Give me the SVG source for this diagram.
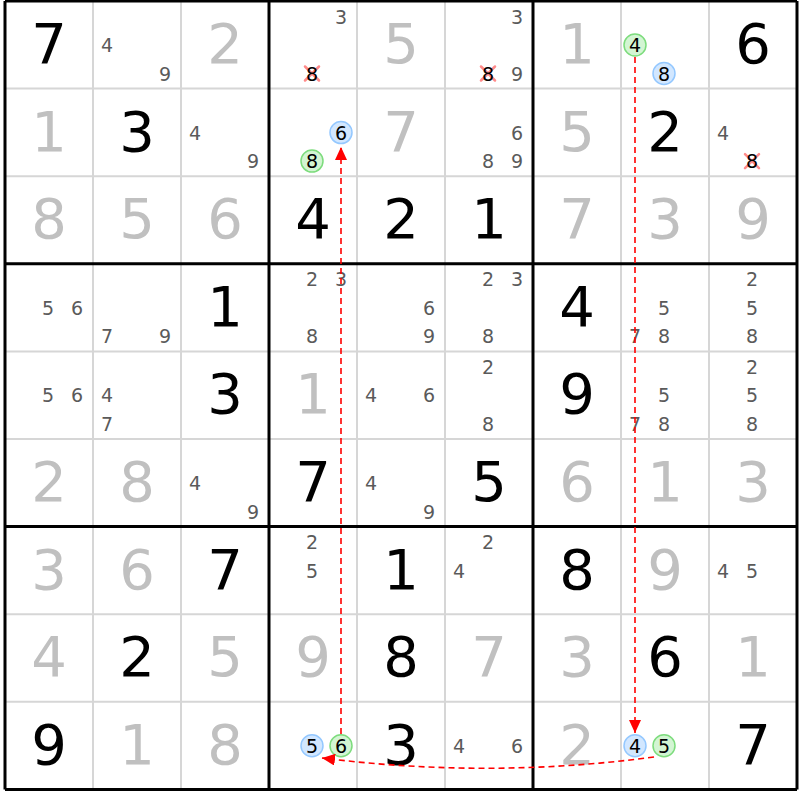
<svg xmlns="http://www.w3.org/2000/svg" width="800" height="800" viewBox="0 0 800 800">
<style>
text{font-family:"DejaVu Sans","Verdana",sans-serif;text-anchor:middle}
.g{font-size:56px;fill:#000}
.s{font-size:56px;fill:#c0c0c0}
.c{font-size:19px;fill:#5a5a5a}
.k{font-size:19px;fill:#000}
.thin{stroke:#d6d6d6;stroke-width:2}
.thick{stroke:#000;stroke-width:3}
.x{stroke:#ff8a8a;stroke-width:2.5;stroke-linecap:round}
.blue{fill:#d2e7ff;stroke:#94c8ff;stroke-width:1.5}
.green{fill:#d3f5d3;stroke:#7ddc7d;stroke-width:1.5}
.arrow{fill:none;stroke:#ff0000;stroke-width:1.6;stroke-dasharray:6,4}
</style>
<defs>
<marker id="ah" markerUnits="userSpaceOnUse" markerWidth="14" markerHeight="12" refX="13" refY="6" orient="auto">
<path d="M0,0 L13,6 L0,12 Z" fill="#ff0000"/>
</marker>
</defs>
<rect width="800" height="800" fill="#fff"/>
<g id="grid">
<path class="thin" d="M93,1V789.4M181,1V789.4M357,1V789.4M445,1V789.4M621,1V789.4M709,1V789.4M5,88.6H797M5,176.2H797M5,351.4H797M5,439H797M5,614.2H797M5,701.8H797"/>
<path class="thick" d="M5,1V789.4M269,1V789.4M533,1V789.4M797,1V789.4M5,1H797M5,263.8H797M5,526.6H797M5,789.4H797"/>
</g>
<g id="r1">
<g id="r1c1"><text class="g" x="49" y="63">7</text></g>
<g id="r1c2"><text class="c" x="107" y="52">4</text><text class="c" x="165" y="80.5">9</text></g>
<g id="r1c3"><text class="s" x="225" y="63">2</text></g>
<g id="r1c4"><text class="c" x="341" y="23.5">3</text><path class="x" d="M305,66.5L319,80.5M319,66.5L305,80.5"/><text class="k" x="312" y="80.5">8</text></g>
<g id="r1c5"><text class="s" x="401" y="63">5</text></g>
<g id="r1c6"><text class="c" x="517" y="23.5">3</text><path class="x" d="M481,66.5L495,80.5M495,66.5L481,80.5"/><text class="k" x="488" y="80.5">8</text><text class="c" x="517" y="80.5">9</text></g>
<g id="r1c7"><text class="s" x="577" y="63">1</text></g>
<g id="r1c8"><circle class="green" cx="635" cy="45" r="11"/><text class="k" x="635" y="52">4</text><circle class="blue" cx="664" cy="73.5" r="11"/><text class="k" x="664" y="80.5">8</text></g>
<g id="r1c9"><text class="g" x="753" y="63">6</text></g>
</g>
<g id="r2">
<g id="r2c1"><text class="s" x="49" y="150.6">1</text></g>
<g id="r2c2"><text class="g" x="137" y="150.6">3</text></g>
<g id="r2c3"><text class="c" x="195" y="139.6">4</text><text class="c" x="253" y="168.1">9</text></g>
<g id="r2c4"><circle class="blue" cx="341" cy="132.6" r="11"/><text class="k" x="341" y="139.6">6</text><circle class="green" cx="312" cy="161.1" r="11"/><text class="k" x="312" y="168.1">8</text></g>
<g id="r2c5"><text class="s" x="401" y="150.6">7</text></g>
<g id="r2c6"><text class="c" x="517" y="139.6">6</text><text class="c" x="488" y="168.1">8</text><text class="c" x="517" y="168.1">9</text></g>
<g id="r2c7"><text class="s" x="577" y="150.6">5</text></g>
<g id="r2c8"><text class="g" x="665" y="150.6">2</text></g>
<g id="r2c9"><text class="c" x="723" y="139.6">4</text><path class="x" d="M745,154.1L759,168.1M759,154.1L745,168.1"/><text class="k" x="752" y="168.1">8</text></g>
</g>
<g id="r3">
<g id="r3c1"><text class="s" x="49" y="238.2">8</text></g>
<g id="r3c2"><text class="s" x="137" y="238.2">5</text></g>
<g id="r3c3"><text class="s" x="225" y="238.2">6</text></g>
<g id="r3c4"><text class="g" x="313" y="238.2">4</text></g>
<g id="r3c5"><text class="g" x="401" y="238.2">2</text></g>
<g id="r3c6"><text class="g" x="489" y="238.2">1</text></g>
<g id="r3c7"><text class="s" x="577" y="238.2">7</text></g>
<g id="r3c8"><text class="s" x="665" y="238.2">3</text></g>
<g id="r3c9"><text class="s" x="753" y="238.2">9</text></g>
</g>
<g id="r4">
<g id="r4c1"><text class="c" x="48" y="314.8">5</text><text class="c" x="77" y="314.8">6</text></g>
<g id="r4c2"><text class="c" x="107" y="343.3">7</text><text class="c" x="165" y="343.3">9</text></g>
<g id="r4c3"><text class="g" x="225" y="325.8">1</text></g>
<g id="r4c4"><text class="c" x="312" y="286.3">2</text><text class="c" x="341" y="286.3">3</text><text class="c" x="312" y="343.3">8</text></g>
<g id="r4c5"><text class="c" x="429" y="314.8">6</text><text class="c" x="429" y="343.3">9</text></g>
<g id="r4c6"><text class="c" x="488" y="286.3">2</text><text class="c" x="517" y="286.3">3</text><text class="c" x="488" y="343.3">8</text></g>
<g id="r4c7"><text class="g" x="577" y="325.8">4</text></g>
<g id="r4c8"><text class="c" x="664" y="314.8">5</text><text class="c" x="635" y="343.3">7</text><text class="c" x="664" y="343.3">8</text></g>
<g id="r4c9"><text class="c" x="752" y="286.3">2</text><text class="c" x="752" y="314.8">5</text><text class="c" x="752" y="343.3">8</text></g>
</g>
<g id="r5">
<g id="r5c1"><text class="c" x="48" y="402.4">5</text><text class="c" x="77" y="402.4">6</text></g>
<g id="r5c2"><text class="c" x="107" y="402.4">4</text><text class="c" x="107" y="430.9">7</text></g>
<g id="r5c3"><text class="g" x="225" y="413.4">3</text></g>
<g id="r5c4"><text class="s" x="313" y="413.4">1</text></g>
<g id="r5c5"><text class="c" x="371" y="402.4">4</text><text class="c" x="429" y="402.4">6</text></g>
<g id="r5c6"><text class="c" x="488" y="373.9">2</text><text class="c" x="488" y="430.9">8</text></g>
<g id="r5c7"><text class="g" x="577" y="413.4">9</text></g>
<g id="r5c8"><text class="c" x="664" y="402.4">5</text><text class="c" x="635" y="430.9">7</text><text class="c" x="664" y="430.9">8</text></g>
<g id="r5c9"><text class="c" x="752" y="373.9">2</text><text class="c" x="752" y="402.4">5</text><text class="c" x="752" y="430.9">8</text></g>
</g>
<g id="r6">
<g id="r6c1"><text class="s" x="49" y="501">2</text></g>
<g id="r6c2"><text class="s" x="137" y="501">8</text></g>
<g id="r6c3"><text class="c" x="195" y="490">4</text><text class="c" x="253" y="518.5">9</text></g>
<g id="r6c4"><text class="g" x="313" y="501">7</text></g>
<g id="r6c5"><text class="c" x="371" y="490">4</text><text class="c" x="429" y="518.5">9</text></g>
<g id="r6c6"><text class="g" x="489" y="501">5</text></g>
<g id="r6c7"><text class="s" x="577" y="501">6</text></g>
<g id="r6c8"><text class="s" x="665" y="501">1</text></g>
<g id="r6c9"><text class="s" x="753" y="501">3</text></g>
</g>
<g id="r7">
<g id="r7c1"><text class="s" x="49" y="588.6">3</text></g>
<g id="r7c2"><text class="s" x="137" y="588.6">6</text></g>
<g id="r7c3"><text class="g" x="225" y="588.6">7</text></g>
<g id="r7c4"><text class="c" x="312" y="549.1">2</text><text class="c" x="312" y="577.6">5</text></g>
<g id="r7c5"><text class="g" x="401" y="588.6">1</text></g>
<g id="r7c6"><text class="c" x="488" y="549.1">2</text><text class="c" x="459" y="577.6">4</text></g>
<g id="r7c7"><text class="g" x="577" y="588.6">8</text></g>
<g id="r7c8"><text class="s" x="665" y="588.6">9</text></g>
<g id="r7c9"><text class="c" x="723" y="577.6">4</text><text class="c" x="752" y="577.6">5</text></g>
</g>
<g id="r8">
<g id="r8c1"><text class="s" x="49" y="676.2">4</text></g>
<g id="r8c2"><text class="g" x="137" y="676.2">2</text></g>
<g id="r8c3"><text class="s" x="225" y="676.2">5</text></g>
<g id="r8c4"><text class="s" x="313" y="676.2">9</text></g>
<g id="r8c5"><text class="g" x="401" y="676.2">8</text></g>
<g id="r8c6"><text class="s" x="489" y="676.2">7</text></g>
<g id="r8c7"><text class="s" x="577" y="676.2">3</text></g>
<g id="r8c8"><text class="g" x="665" y="676.2">6</text></g>
<g id="r8c9"><text class="s" x="753" y="676.2">1</text></g>
</g>
<g id="r9">
<g id="r9c1"><text class="g" x="49" y="763.8">9</text></g>
<g id="r9c2"><text class="s" x="137" y="763.8">1</text></g>
<g id="r9c3"><text class="s" x="225" y="763.8">8</text></g>
<g id="r9c4"><circle class="blue" cx="312" cy="745.8" r="11"/><text class="k" x="312" y="752.8">5</text><circle class="green" cx="341" cy="745.8" r="11"/><text class="k" x="341" y="752.8">6</text></g>
<g id="r9c5"><text class="g" x="401" y="763.8">3</text></g>
<g id="r9c6"><text class="c" x="459" y="752.8">4</text><text class="c" x="517" y="752.8">6</text></g>
<g id="r9c7"><text class="s" x="577" y="763.8">2</text></g>
<g id="r9c8"><circle class="blue" cx="635" cy="745.8" r="11"/><text class="k" x="635" y="752.8">4</text><circle class="green" cx="664" cy="745.8" r="11"/><text class="k" x="664" y="752.8">5</text></g>
<g id="r9c9"><text class="g" x="753" y="763.8">7</text></g>
</g>
<g id="connectors">
<path class="arrow" d="M635,57 L635,733" marker-end="url(#ah)"/>
<path class="arrow" d="M341,734 L341,147" marker-end="url(#ah)"/>
<path class="arrow" d="M654,757 Q490,779 322,758" marker-end="url(#ah)"/>
</g>
</svg>
